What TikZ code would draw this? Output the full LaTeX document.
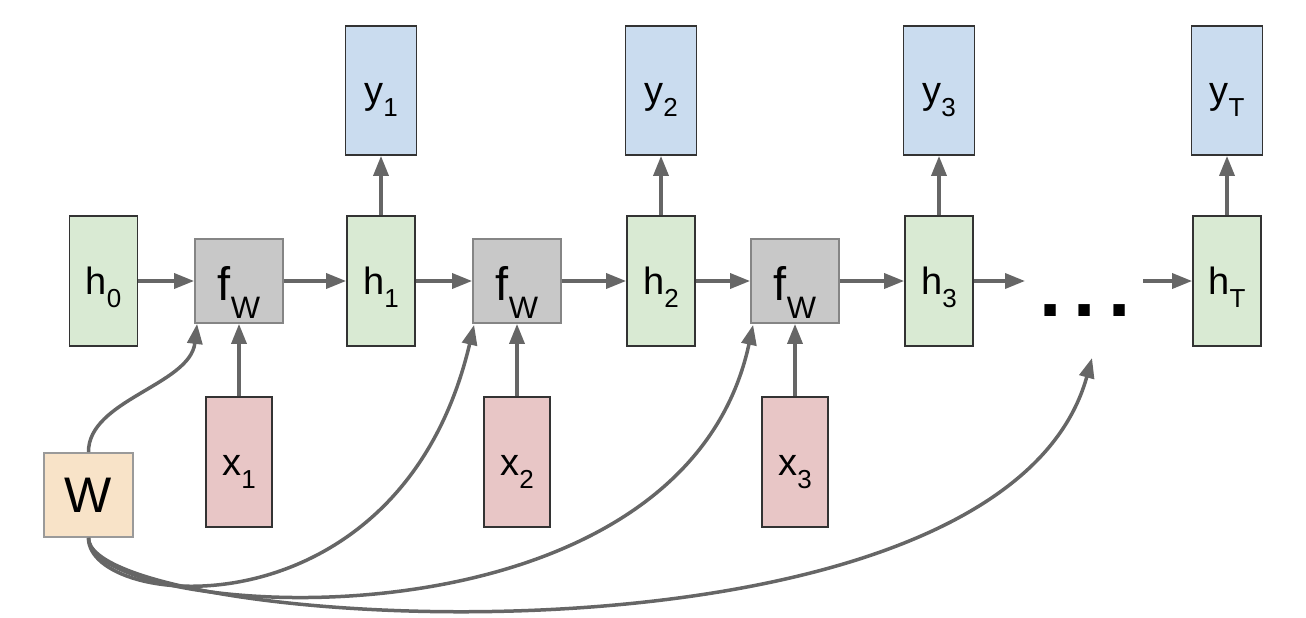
\documentclass[tikz,border=0pt]{standalone}
\usepackage{fontspec}
\setmainfont{Liberation Sans}
\usetikzlibrary{arrows.meta}
\definecolor{hgreen}{HTML}{D9EAD3}
\definecolor{yblue}{HTML}{CADCEF}
\definecolor{xred}{HTML}{E8C6C6}
\definecolor{fgray}{HTML}{C8C8C8}
\definecolor{wor}{HTML}{F8E3C8}
\definecolor{boxline}{HTML}{333333}
\definecolor{fline}{HTML}{858585}
\definecolor{wline}{HTML}{9A9A9A}
\definecolor{arrgray}{HTML}{666666}
\newcommand\lbl[2]{#1\raisebox{-13pt}{\fontsize{26}{26}\selectfont #2}}
\newcommand\fwlbl{{\fontsize{47}{47}\selectfont f\raisebox{-18pt}{\fontsize{31}{31}\selectfont W}}}
\begin{document}
\begin{tikzpicture}[x=1pt,y=-1pt,
  box/.style={draw=boxline, line width=1.8pt, inner sep=0pt, text height=28pt, text depth=2pt, font=\fontsize{38}{38}\selectfont},
  hbox/.style={box, fill=hgreen, minimum width=68pt, minimum height=130pt},
  ybox/.style={box, fill=yblue, minimum width=71pt, minimum height=129pt},
  xbox/.style={box, fill=xred, minimum width=66pt, minimum height=130pt},
  fbox/.style={draw=fline, fill=fgray, line width=1.8pt, inner sep=0pt, minimum width=88pt, minimum height=84pt, text height=40pt, text depth=2pt},
  wbox/.style={draw=wline, fill=wor, line width=1.8pt, inner sep=0pt, minimum width=89pt, minimum height=84pt, font=\fontsize{50}{50}\selectfont},
  arr/.style={draw=arrgray, line width=3.5pt, -{Triangle[length=20pt,width=15pt]}},
]
\useasboundingbox (0,0) rectangle (1306,618);
% hidden states
\node[hbox] (h0) at (103.5,281) {\lbl{h}{0}};
\node[hbox] (h1) at (381,281) {\lbl{h}{1}};
\node[hbox] (h2) at (661,281) {\lbl{h}{2}};
\node[hbox] (h3) at (939,281) {\lbl{h}{3}};
\node[hbox] (hT) at (1227,281) {\lbl{h}{T}};
% f_W
\node[fbox] (f1) at (239,281) {\fwlbl};
\node[fbox] (f2) at (517,281) {\fwlbl};
\node[fbox] (f3) at (795,281) {\fwlbl};
% outputs
\node[ybox] (y1) at (381,90.5) {\lbl{y}{1}};
\node[ybox] (y2) at (661,90.5) {\lbl{y}{2}};
\node[ybox] (y3) at (939,90.5) {\lbl{y}{3}};
\node[ybox] (yT) at (1227,90.5) {\lbl{y}{T}};
% inputs
\node[xbox] (x1) at (239,462) {\lbl{x}{1}};
\node[xbox] (x2) at (517,462) {\lbl{x}{2}};
\node[xbox] (x3) at (795,462) {\lbl{x}{3}};
% W
\node[wbox] (W) at (88.5,495) {W};
% dots
\node[anchor=base, inner sep=0pt, font=\fontsize{80}{80}\selectfont\bfseries] (dots) at (1085,316) {.\hspace{12pt}.\hspace{12pt}.};
\coordinate (h3out) at (1025,281);
\coordinate (hTin) at (1143,281);
\coordinate (dotsin) at (1092,358);
% horizontal chain
\draw[arr] (h0.east) -- (f1.west);
\draw[arr] (f1.east) -- (h1.west);
\draw[arr] (h1.east) -- (f2.west);
\draw[arr] (f2.east) -- (h2.west);
\draw[arr] (h2.east) -- (f3.west);
\draw[arr] (f3.east) -- (h3.west);
\draw[arr] (h3.east) -- (h3out);
\draw[arr] (hTin) -- (hT.west);
% outputs
\draw[arr] (h1.north) -- (y1.south);
\draw[arr] (h2.north) -- (y2.south);
\draw[arr] (h3.north) -- (y3.south);
\draw[arr] (hT.north) -- (yT.south);
% inputs
\draw[arr] (x1.north) -- (f1.south);
\draw[arr] (x2.north) -- (f2.south);
\draw[arr] (x3.north) -- (f3.south);
% W curves
\draw[arr] (W.north) .. controls (88,400) and (190,385) .. ([xshift=3pt]f1.south west);
\draw[arr] (W.south) .. controls (88,610) and (400,640) .. ([xshift=2pt,yshift=-1pt]f2.south west);
\draw[arr] (W.south) .. controls (88,620) and (680,665) .. ([xshift=3pt,yshift=-1pt]f3.south west);
\draw[arr] (W.south) .. controls (88,630) and (1000,690) .. (dotsin);
\end{tikzpicture}
\end{document}
